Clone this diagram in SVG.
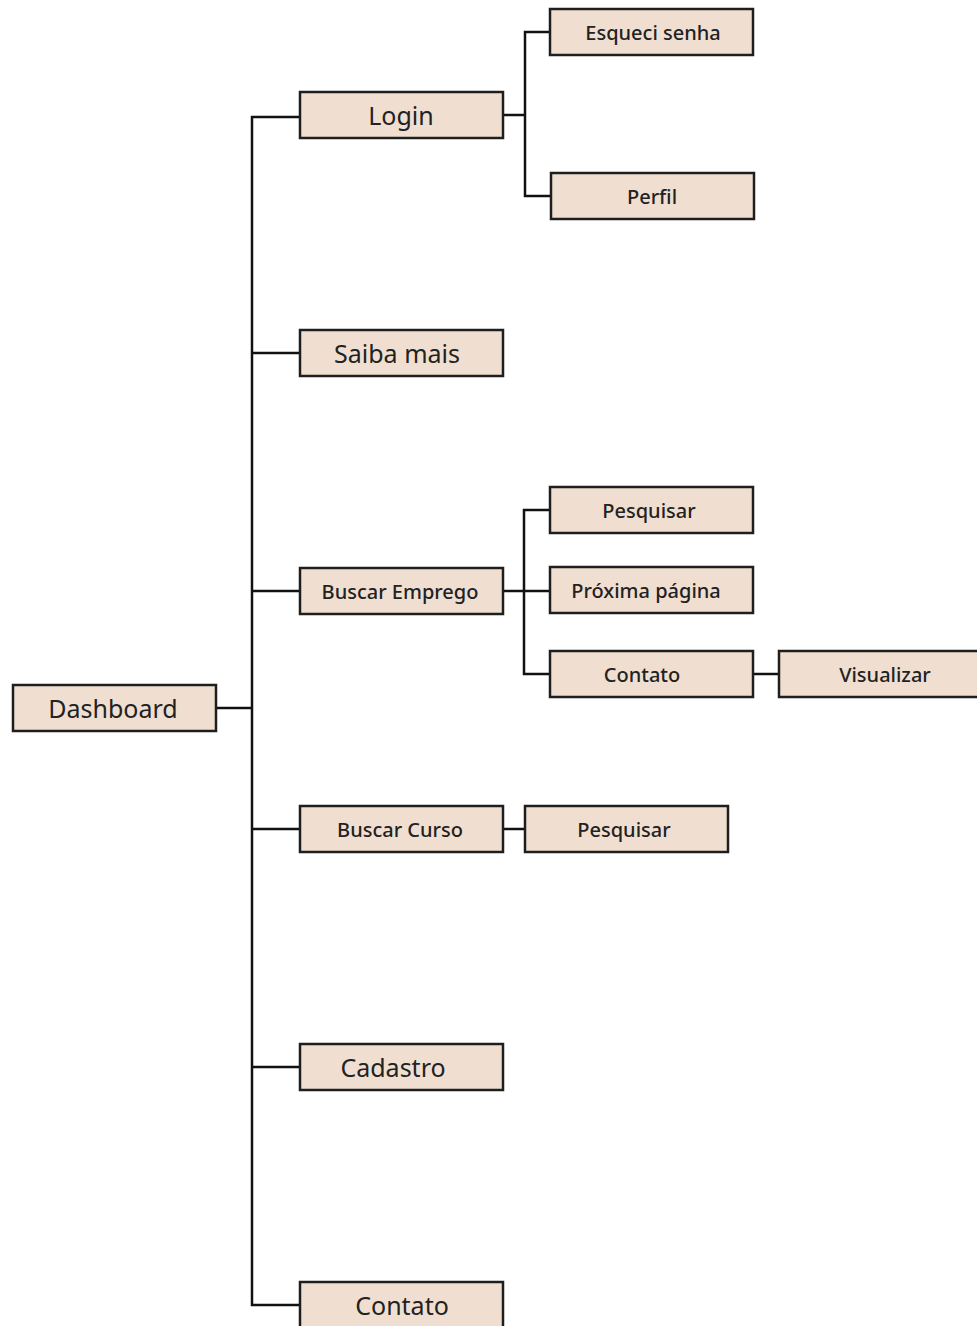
<svg xmlns="http://www.w3.org/2000/svg" width="977" height="1326" viewBox="0 0 977 1326">
<style>
.box{fill:#f0dfd1;stroke:#1e1e1e;stroke-width:2.5}
.c{fill:none;stroke:#111;stroke-width:2.5}
text{font-family:"Noto Sans","Liberation Sans",sans-serif;fill:#222;text-anchor:middle;dominant-baseline:central}
.L{font-size:25px}
.S{font-size:20px;font-weight:500}
</style>
<rect width="977" height="1326" fill="#fff"/>
<g id="connectors">
<path class="c" d="M216,708H252M300,117H252V1305H300M252,353H300M252,591H300M252,829H300M252,1067H300"/>
<path class="c" d="M503,115H525M550,32H525V196H551"/>
<path class="c" d="M503,591H550M550,510H524V674H550"/>
<path class="c" d="M753,674H779"/>
<path class="c" d="M503,829H525"/>
</g>
<g id="dashboard"><rect class="box" x="13" y="685" width="203" height="46"/><text class="L" x="113" y="708">Dashboard</text></g>
<g id="login"><rect class="box" x="300" y="92" width="203" height="46"/><text class="L" x="401" y="115">Login</text></g>
<g id="esqueci"><rect class="box" x="550" y="9" width="203" height="46"/><text class="S" x="653" y="32">Esqueci senha</text></g>
<g id="perfil"><rect class="box" x="551" y="173" width="203" height="46"/><text class="S" x="652" y="196">Perfil</text></g>
<g id="saiba"><rect class="box" x="300" y="330" width="203" height="46"/><text class="L" x="397" y="353">Saiba mais</text></g>
<g id="emprego"><rect class="box" x="300" y="568" width="203" height="46"/><text class="S" x="400" y="591">Buscar Emprego</text></g>
<g id="pesquisar1"><rect class="box" x="550" y="487" width="203" height="46"/><text class="S" x="649" y="510">Pesquisar</text></g>
<g id="proxima"><rect class="box" x="550" y="567" width="203" height="46"/><text class="S" x="646" y="590">Próxima página</text></g>
<g id="contato1"><rect class="box" x="550" y="651" width="203" height="46"/><text class="S" x="642" y="674">Contato</text></g>
<g id="visualizar"><rect class="box" x="779" y="651" width="203" height="46"/><text class="S" x="885" y="674">Visualizar</text></g>
<g id="curso"><rect class="box" x="300" y="806" width="203" height="46"/><text class="S" x="400" y="829">Buscar Curso</text></g>
<g id="pesquisar2"><rect class="box" x="525" y="806" width="203" height="46"/><text class="S" x="624" y="829">Pesquisar</text></g>
<g id="cadastro"><rect class="box" x="300" y="1044" width="203" height="46"/><text class="L" x="393" y="1067">Cadastro</text></g>
<g id="contato2"><rect class="box" x="300" y="1282" width="203" height="50"/><text class="L" x="402" y="1305">Contato</text></g>
</svg>
